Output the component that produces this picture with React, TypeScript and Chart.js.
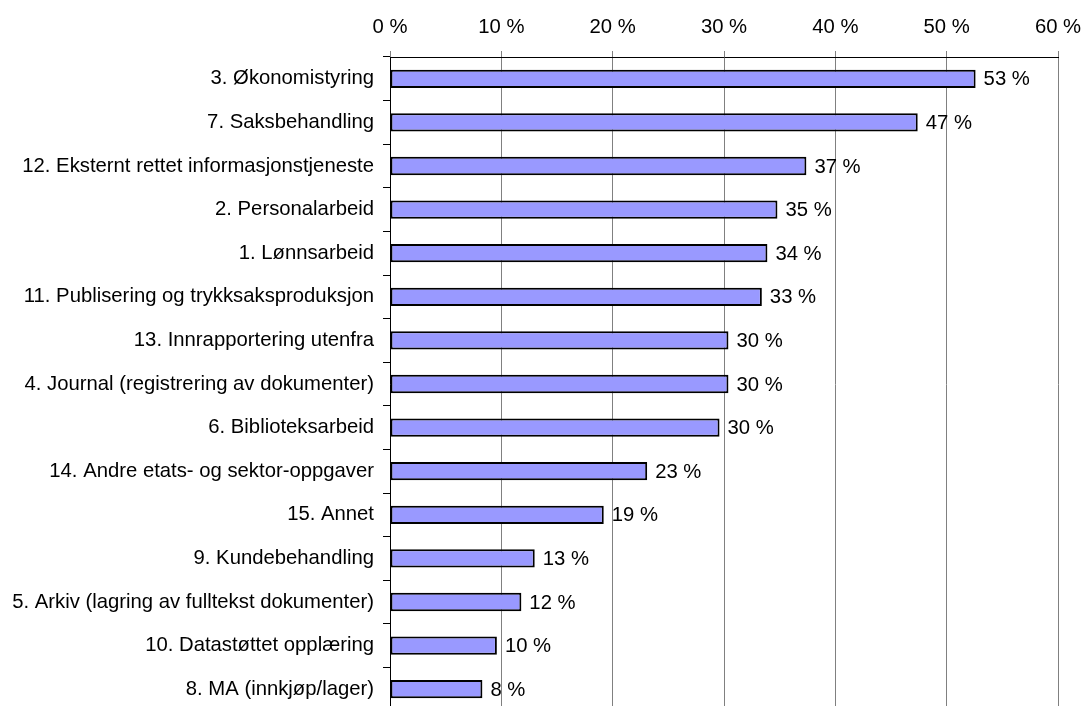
import React, { useEffect, useRef } from "react";
import { Chart, registerables } from "chart.js";

Chart.register(...registerables);

const categories: string[] = [
  "3. Økonomistyring",
  "7. Saksbehandling",
  "12. Eksternt rettet informasjonstjeneste",
  "2. Personalarbeid",
  "1. Lønnsarbeid",
  "11. Publisering og trykksaksproduksjon",
  "13. Innrapportering utenfra",
  "4. Journal (registrering av dokumenter)",
  "6. Biblioteksarbeid",
  "14. Andre etats- og sektor-oppgaver",
  "15. Annet",
  "9. Kundebehandling",
  "5. Arkiv (lagring av fulltekst dokumenter)",
  "10. Datastøttet opplæring",
  "8. MA (innkjøp/lager)",
];

const shares: number[] = [52.6, 47.4, 37.4, 34.8, 33.9, 33.4, 30.4, 30.4, 29.6, 23.1, 19.2, 13.0, 11.8, 9.6, 8.3];

const xTicks: number[] = [0, 10, 20, 30, 40, 50, 60];

const FONT = "'Liberation Sans', Arial, sans-serif";
const FONT_SIZE = 20.3;
const H = 716;

const valueLabels = {
  id: "valueLabels",
  afterDatasetsDraw(chart: any) {
    const ctx = chart.ctx;
    const meta = chart.getDatasetMeta(0);
    ctx.save();
    ctx.font = `${FONT_SIZE}px ${FONT}`;
    ctx.fillStyle = "#000000";
    ctx.textAlign = "left";
    ctx.textBaseline = "middle";
    meta.data.forEach((bar: any, i: number) => {
      const v = chart.data.datasets[0].data[i] as number;
      ctx.fillText(`${Math.round(v)} %`, bar.x + 8, bar.y + 1);
    });
    ctx.restore();
  },
};

export default function App() {
  const ref = useRef<HTMLCanvasElement>(null);

  useEffect(() => {
    if (!ref.current) return;
    const chart = new Chart(ref.current, {
      type: "bar",
      data: {
        labels: categories,
        datasets: [
          {
            data: shares,
            backgroundColor: "#9999FF",
            borderColor: "#000000",
            borderWidth: 2,
            borderSkipped: false,
            barPercentage: 0.42,
            categoryPercentage: 1,
          },
        ],
      },
      options: {
        indexAxis: "y",
        animation: false,
        responsive: false,
        maintainAspectRatio: false,
        layout: { padding: { left: 0, top: 0, right: 25, bottom: H - 711 } },
        plugins: {
          legend: { display: false },
          tooltip: { enabled: false },
        },
        scales: {
          x: {
            position: "top",
            min: 0,
            max: 60,
            afterBuildTicks: (axis: any) => {
              axis.ticks = xTicks.map((v) => ({ value: v }));
            },
            afterFit: (axis: any) => {
              axis.height = 57;
              axis.paddingLeft = 0;
              axis.paddingRight = 0;
            },
            ticks: {
              color: "#000000",
              font: { family: FONT, size: FONT_SIZE },
              padding: 11,
              callback: (v: any) => `${v} %`,
            },
            grid: {
              color: "#808080",
              lineWidth: 1,
              tickLength: 6,
            },
            border: { color: "#000000", width: 1 },
          },
          y: {
            afterFit: (axis: any) => {
              axis.width = 390;
              axis.paddingTop = 0;
              axis.paddingBottom = 0;
            },
            ticks: {
              color: "#000000",
              font: { family: FONT, size: FONT_SIZE },
              padding: 9,
            },
            grid: {
              offset: true,
              drawOnChartArea: false,
              drawTicks: true,
              tickLength: 7,
              color: "#000000",
            },
            border: { color: "#000000", width: 1 },
          },
        },
      },
      plugins: [valueLabels],
    });
    return () => chart.destroy();
  }, []);

  return (
    <div style={{ position: "fixed", left: 0, top: 0, width: 1083, height: H, background: "#ffffff" }}>
      <canvas ref={ref} width={1083} height={H} style={{ width: 1083, height: H }} />
    </div>
  );
}
